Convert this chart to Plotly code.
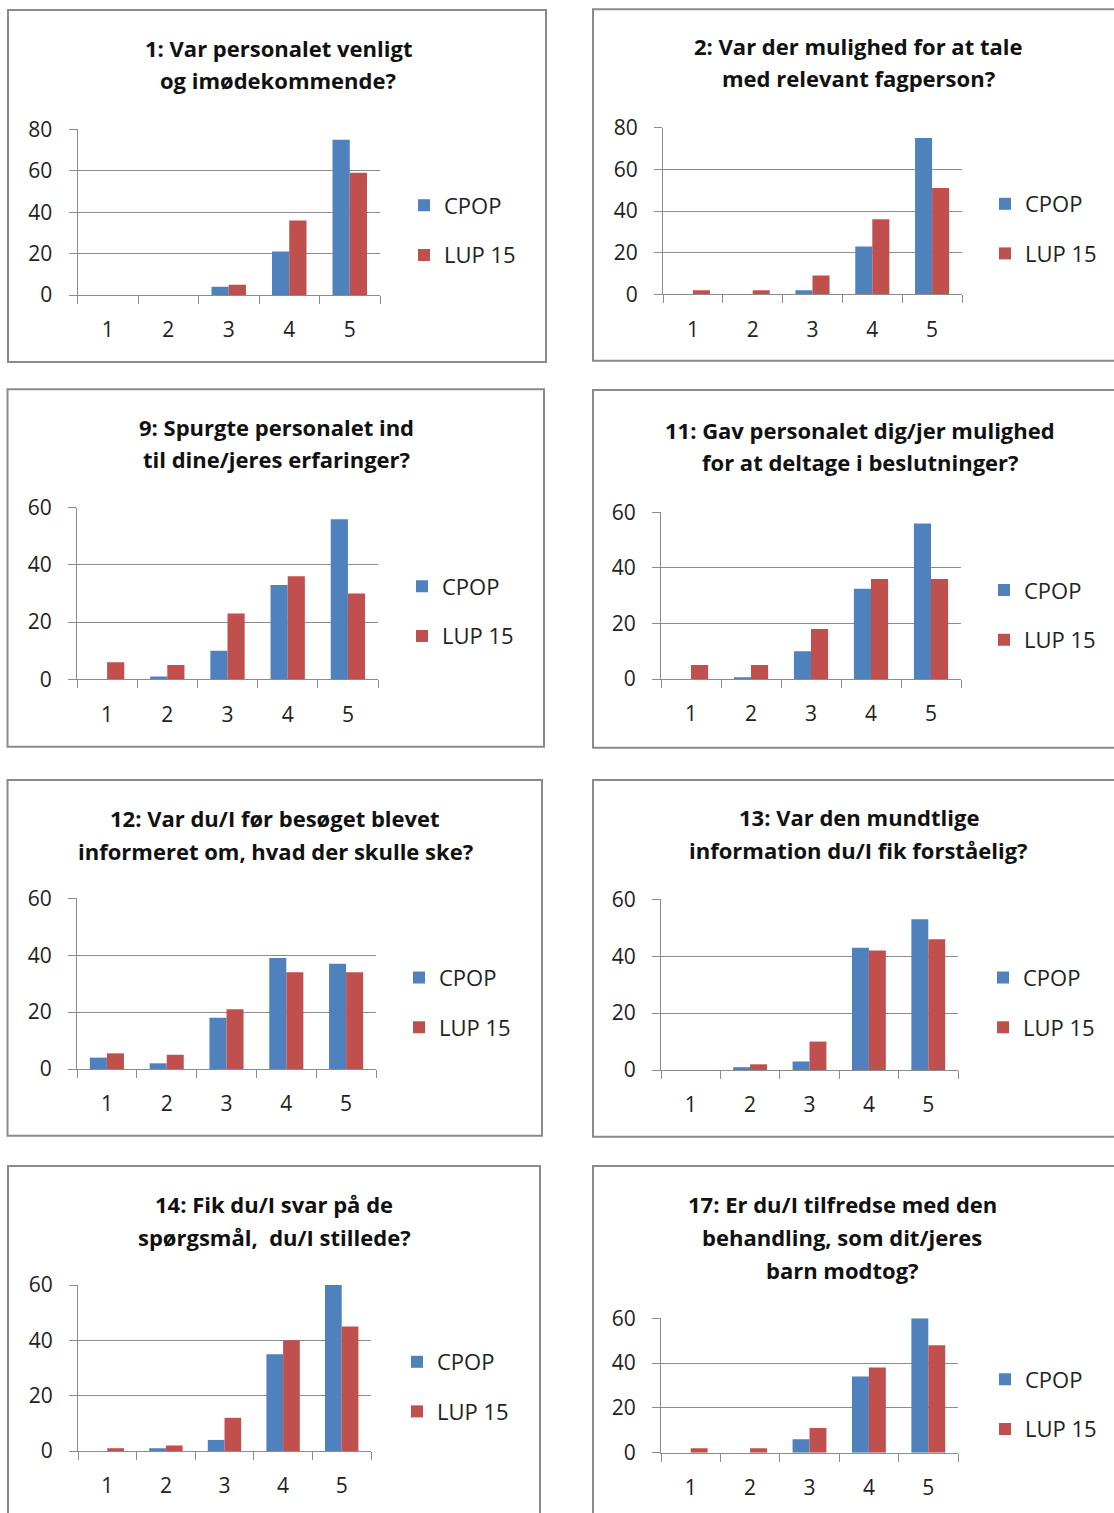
import plotly.graph_objects as go

W, H = 1114, 1513

categories = ["1", "2", "3", "4", "5"]
series_names = ["CPOP", "LUP 15"]
y_ticks_80 = [0, 20, 40, 60, 80]
y_ticks_60 = [0, 20, 40, 60]

title_q1 = ["1: Var personalet venligt", "og imødekommende?"]
title_q2 = ["2: Var der mulighed for at tale", "med relevant fagperson?"]
title_q9 = ["9: Spurgte personalet ind", "til dine/jeres erfaringer?"]
title_q11 = ["11: Gav personalet dig/jer mulighed", "for at deltage i beslutninger?"]
title_q12 = ["12: Var du/I før besøget blevet", "informeret om, hvad der skulle ske?"]
title_q13 = ["13: Var den mundtlige", "information du/I fik forståelig?"]
title_q14 = ["14: Fik du/I svar på de", "spørgsmål,  du/I stillede?"]
title_q17 = ["17: Er du/I tilfredse med den", "behandling, som dit/jeres", "barn modtog?"]

cpop_q1 = [0, 0, 4, 21, 75]
lup_q1 = [0, 0, 5, 36, 59]
cpop_q2 = [0, 0, 2, 23, 75]
lup_q2 = [2, 2, 9, 36, 51]
cpop_q9 = [0, 1, 10, 33, 56]
lup_q9 = [6, 5, 23, 36, 30]
cpop_q11 = [0, 0.6, 10, 32.5, 56]
lup_q11 = [5, 5, 18, 36, 36]
cpop_q12 = [4, 2, 18, 39, 37]
lup_q12 = [5.5, 5, 21, 34, 34]
cpop_q13 = [0, 1, 3, 43, 53]
lup_q13 = [0, 2, 10, 42, 46]
cpop_q14 = [0, 1, 4, 35, 60]
lup_q14 = [1, 2, 12, 40, 45]
cpop_q17 = [0, 0, 6, 34, 60]
lup_q17 = [2, 2, 11, 38, 48]

BLUE = "#4F81BD"
RED = "#C0504D"
GRID = "#8C8C8C"
BORDER = "#8A8A8A"
FONT = "Open Sans"

def X(px):
    return px / W

def Y(py):
    return 1 - py / H

# geometry per panel (pixels): plot area, title, legend, border box
panels = [
    dict(title=title_q1, cpop=cpop_q1, lup=lup_q1, ymax=80, ticks=y_ticks_80,
         plot=(77.5, 380, 129.3, 295), tcx=278, tys=[48, 80],
         leg=(444, 206, 255), box=(8, 10, 546, 362)),
    dict(title=title_q2, cpop=cpop_q2, lup=lup_q2, ymax=80, ticks=y_ticks_80,
         plot=(663, 962, 127.7, 294.3), tcx=858, tys=[46, 78],
         leg=(1025, 205, 253), box=(593, 9.3, 1130, 360.7)),
    dict(title=title_q9, cpop=cpop_q9, lup=lup_q9, ymax=60, ticks=y_ticks_60,
         plot=(77, 378, 507.7, 679.3), tcx=276, tys=[426.7, 459],
         leg=(442, 587, 636), box=(7.5, 389.3, 544, 746.7)),
    dict(title=title_q11, cpop=cpop_q11, lup=lup_q11, ymax=60, ticks=y_ticks_60,
         plot=(661, 961, 512.3, 679), tcx=860, tys=[430, 462],
         leg=(1024, 590, 640.5), box=(593, 390, 1130, 747.7)),
    dict(title=title_q12, cpop=cpop_q12, lup=lup_q12, ymax=60, ticks=y_ticks_60,
         plot=(77, 376, 898.3, 1069), tcx=275, tys=[818.3, 850.5],
         leg=(439, 978.3, 1027.3), box=(7.5, 780, 542, 1135.7)),
    dict(title=title_q13, cpop=cpop_q13, lup=lup_q13, ymax=60, ticks=y_ticks_60,
         plot=(661, 958, 899.3, 1070), tcx=858.5, tys=[816.7, 849.5],
         leg=(1023, 978.3, 1027.3), box=(593, 780, 1130, 1136.7)),
    dict(title=title_q14, cpop=cpop_q14, lup=lup_q14, ymax=60, ticks=y_ticks_60,
         plot=(78, 371, 1285, 1451), tcx=274, tys=[1204, 1236.5],
         leg=(437, 1363, 1411), box=(8, 1166, 540, 1530)),
    dict(title=title_q17, cpop=cpop_q17, lup=lup_q17, ymax=60, ticks=y_ticks_60,
         plot=(661, 958, 1318.3, 1452.7), tcx=842, tys=[1204, 1236.5, 1270],
         leg=(1025, 1380, 1429), box=(593, 1166, 1130, 1530)),
]

fig = go.Figure()
layout = dict(
    width=W, height=H,
    margin=dict(l=0, r=0, t=0, b=0, pad=0, autoexpand=False),
    paper_bgcolor="white", plot_bgcolor="white",
    barmode="group", bargap=0.43, bargroupgap=0.0,
    font=dict(family=FONT, color="#222222"),
    showlegend=True,
)
shapes = []
annotations = []

for i, p in enumerate(panels, start=1):
    sfx = "" if i == 1 else str(i)
    legname = "legend" + sfx
    x0, x1, yt, yb = p["plot"]
    fig.add_trace(go.Bar(x=categories, y=p["cpop"], name=series_names[0],
                         marker=dict(color=BLUE, line=dict(width=0)),
                         xaxis="x" + sfx, yaxis="y" + sfx, legend=legname,
                         legendgroup="a%d" % i))
    fig.add_trace(go.Bar(x=categories, y=p["lup"], name=series_names[1],
                         marker=dict(color=RED, line=dict(width=0)),
                         xaxis="x" + sfx, yaxis="y" + sfx, legend=legname,
                         legendgroup="b%d" % i))
    layout["xaxis" + sfx] = dict(
        domain=[X(x0), X(x1)], anchor="y" + sfx, type="category",
        range=[-0.5, 4.5], tickson="boundaries", ticks="outside", ticklen=8,
        tickcolor=GRID, showline=True, linecolor=GRID, linewidth=1,
        showgrid=False, zeroline=False, fixedrange=True, automargin=False,
        tickfont=dict(family=FONT, size=21, color="#222222"),
        ticklabelstandoff=16,
    )
    layout["yaxis" + sfx] = dict(
        domain=[Y(yb), Y(yt)], anchor="x" + sfx, range=[0, p["ymax"]],
        tickvals=p["ticks"], ticks="outside", ticklen=8, tickcolor=GRID,
        showline=True, linecolor=GRID, linewidth=1,
        showgrid=True, gridcolor=GRID, gridwidth=1, zeroline=False,
        fixedrange=True, automargin=False,
        tickfont=dict(family=FONT, size=21, color="#222222"),
        ticklabelstandoff=12,
    )
    lx, ly1, ly2 = p["leg"]
    layout[legname] = dict(
        x=X(lx - 40), y=Y((ly1 + ly2) / 2), xanchor="left", yanchor="middle",
        font=dict(family=FONT, size=22, color="#222222"),
        bgcolor="rgba(0,0,0,0)", borderwidth=0,
        tracegroupgap=18, traceorder="grouped",
    )
    bx0, by0, bx1, by1 = p["box"]
    shapes.append(dict(type="rect", xref="paper", yref="paper",
                       x0=X(bx0), x1=X(bx1), y0=Y(by1), y1=Y(by0),
                       line=dict(color=BORDER, width=2), fillcolor="rgba(0,0,0,0)",
                       layer="below"))
    for line, ty in zip(p["title"], p["tys"]):
        annotations.append(dict(
            text="<b>" + line + "</b>", xref="paper", yref="paper",
            x=X(p["tcx"]), y=Y(ty), xanchor="center", yanchor="middle",
            showarrow=False, font=dict(family=FONT, size=22, color="#111111"),
        ))

layout["shapes"] = shapes
layout["annotations"] = annotations
fig.update_layout(**layout)
fig.write_html("out.html", config={"displayModeBar": False},
               post_script="document.body.style.margin='0';")
